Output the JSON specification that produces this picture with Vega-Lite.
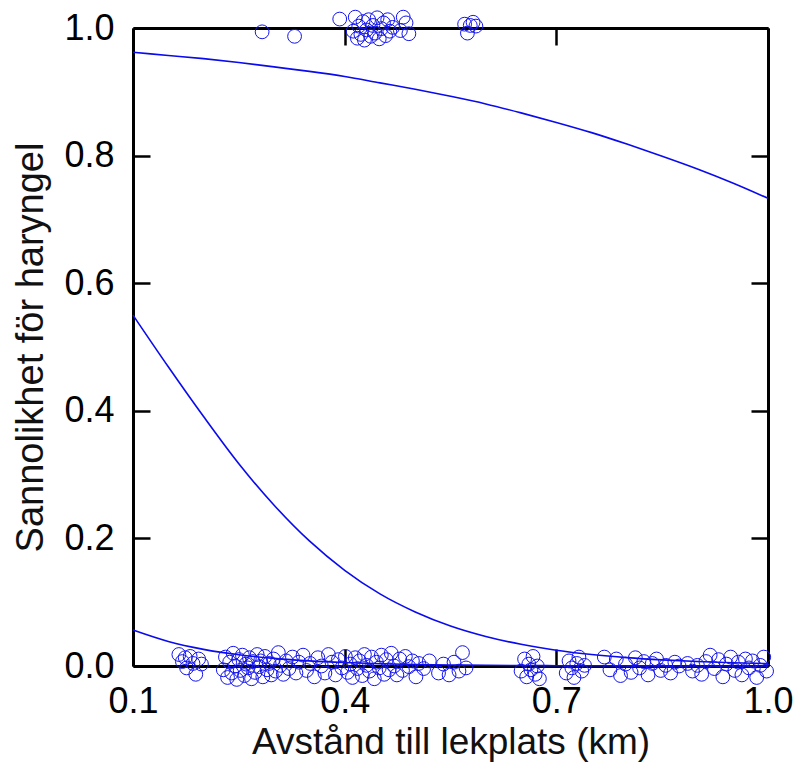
{
  "$schema": "https://vega.github.io/schema/vega-lite/v6.json",
  "width": 635,
  "height": 638,
  "autosize": "none",
  "padding": {"left": 133, "top": 28, "right": 29, "bottom": 96},
  "background": "white",
  "config": {
    "view": {"stroke": null},
    "font": "Liberation Sans",
    "axis": {
      "domainColor": "black", "domainWidth": 3, "tickColor": "black", "tickWidth": 2.5,
      "tickSize": -17, "grid": false, "labelFont": "Liberation Sans", "labelFontSize": 36,
      "labelColor": "black", "labelFlush": false, "labelOverlap": false,
      "titleFont": "Liberation Sans", "titleFontSize": 37, "titleFontWeight": "normal",
      "titleColor": "#111", "zindex": 1
    }
  },
  "datasets": {
    "pts": [
      {"x":0.165,"y":0.018},{"x":0.170,"y":0.007},{"x":0.176,"y":-0.003},{"x":0.181,"y":0.015},{"x":0.185,"y":0.004},{"x":0.189,"y":-0.013},{"x":0.193,"y":0.011},{"x":0.197,"y":0.003},{"x":0.174,"y":0.013},
      {"x":0.228,"y":-0.006},{"x":0.231,"y":0.014},{"x":0.234,"y":-0.018},{"x":0.237,"y":0.006},{"x":0.240,"y":-0.011},{"x":0.242,"y":0.020},{"x":0.245,"y":0.000},{"x":0.247,"y":-0.021},{"x":0.250,"y":0.010},{"x":0.252,"y":-0.007},{"x":0.255,"y":0.017},{"x":0.258,"y":-0.015},{"x":0.260,"y":0.003},{"x":0.263,"y":-0.003},{"x":0.265,"y":0.013},{"x":0.268,"y":-0.020},{"x":0.270,"y":0.007},{"x":0.273,"y":-0.010},{"x":0.276,"y":0.018},{"x":0.279,"y":-0.001},{"x":0.281,"y":0.008},{"x":0.284,"y":-0.017},{"x":0.287,"y":0.015},{"x":0.290,"y":-0.006},{"x":0.293,"y":0.004},{"x":0.296,"y":-0.014},{"x":0.299,"y":0.011},{"x":0.302,"y":-0.008},{"x":0.306,"y":0.021},{"x":0.309,"y":0.001},{"x":0.313,"y":-0.013},{"x":0.317,"y":0.008},{"x":0.321,"y":-0.004},{"x":0.326,"y":0.014},{"x":0.331,"y":-0.011},{"x":0.335,"y":0.006},
      {"x":0.341,"y":0.017},{"x":0.346,"y":-0.007},{"x":0.351,"y":0.004},{"x":0.357,"y":-0.017},{"x":0.362,"y":0.013},{"x":0.367,"y":0.000},{"x":0.372,"y":-0.011},{"x":0.377,"y":0.018},{"x":0.382,"y":0.006},{"x":0.387,"y":-0.014},{"x":0.391,"y":0.010},{"x":0.396,"y":-0.003},
      {"x":0.401,"y":0.015},{"x":0.404,"y":-0.010},{"x":0.408,"y":0.003},{"x":0.411,"y":-0.018},{"x":0.415,"y":0.013},{"x":0.418,"y":-0.004},{"x":0.421,"y":0.008},{"x":0.425,"y":-0.015},{"x":0.428,"y":0.018},{"x":0.431,"y":0.001},{"x":0.435,"y":-0.008},{"x":0.438,"y":0.014},{"x":0.442,"y":-0.020},{"x":0.445,"y":0.006},{"x":0.449,"y":-0.003},{"x":0.452,"y":0.017},{"x":0.456,"y":-0.013},{"x":0.459,"y":0.010},{"x":0.463,"y":-0.006},{"x":0.466,"y":0.020},{"x":0.470,"y":0.000},{"x":0.474,"y":-0.014},{"x":0.478,"y":0.011},{"x":0.482,"y":-0.007},{"x":0.486,"y":0.015},{"x":0.491,"y":-0.001},{"x":0.496,"y":0.008},{"x":0.501,"y":-0.017},{"x":0.505,"y":0.004},
      {"x":0.512,"y":-0.004},{"x":0.520,"y":0.008},{"x":0.533,"y":-0.011},{"x":0.540,"y":0.003},{"x":0.548,"y":-0.014},{"x":0.555,"y":0.006},{"x":0.562,"y":-0.008},{"x":0.567,"y":0.021},{"x":0.572,"y":-0.003},
      {"x":0.650,"y":-0.008},{"x":0.655,"y":0.011},{"x":0.658,"y":-0.017},{"x":0.661,"y":0.003},{"x":0.664,"y":-0.006},{"x":0.667,"y":0.015},{"x":0.670,"y":-0.013},{"x":0.673,"y":0.000},{"x":0.676,"y":-0.020},
      {"x":0.714,"y":-0.011},{"x":0.718,"y":0.008},{"x":0.722,"y":-0.003},{"x":0.725,"y":-0.018},{"x":0.729,"y":0.004},{"x":0.732,"y":0.014},{"x":0.736,"y":-0.008},{"x":0.740,"y":0.001},
      {"x":0.768,"y":0.014},{"x":0.776,"y":-0.006},{"x":0.785,"y":0.011},{"x":0.791,"y":-0.015},{"x":0.798,"y":0.003},{"x":0.806,"y":-0.010},{"x":0.812,"y":0.013},{"x":0.818,"y":-0.003},{"x":0.824,"y":0.007},{"x":0.830,"y":-0.014},{"x":0.836,"y":0.004},{"x":0.842,"y":0.011},{"x":0.848,"y":-0.007},{"x":0.855,"y":0.001},{"x":0.862,"y":-0.011},{"x":0.868,"y":0.006},{"x":0.874,"y":0.000},
      {"x":0.886,"y":0.004},{"x":0.893,"y":-0.008},{"x":0.900,"y":0.001},{"x":0.906,"y":-0.013},{"x":0.912,"y":0.007},{"x":0.918,"y":0.017},{"x":0.924,"y":-0.004},{"x":0.930,"y":0.010},{"x":0.936,"y":-0.017},{"x":0.941,"y":0.003},{"x":0.947,"y":0.014},{"x":0.953,"y":-0.007},{"x":0.958,"y":0.006},{"x":0.963,"y":-0.014},{"x":0.968,"y":0.011},{"x":0.973,"y":-0.003},{"x":0.978,"y":0.008},{"x":0.984,"y":-0.018},{"x":0.989,"y":0.001},{"x":0.994,"y":0.014},{"x":0.998,"y":-0.008},
      {"x":0.283,"y":0.994},{"x":0.329,"y":0.987},{"x":0.393,"y":1.014},{"x":0.412,"y":0.995},{"x":0.415,"y":1.017},{"x":0.418,"y":0.984},{"x":0.420,"y":1.003},{"x":0.423,"y":0.990},{"x":0.426,"y":1.010},{"x":0.428,"y":0.981},{"x":0.431,"y":0.997},{"x":0.434,"y":1.013},{"x":0.437,"y":0.987},{"x":0.440,"y":1.004},{"x":0.443,"y":0.992},{"x":0.446,"y":1.016},{"x":0.449,"y":0.983},{"x":0.452,"y":0.999},{"x":0.455,"y":1.008},{"x":0.458,"y":0.988},{"x":0.461,"y":1.013},{"x":0.464,"y":0.995},{"x":0.468,"y":1.001},{"x":0.479,"y":0.996},{"x":0.483,"y":1.017},{"x":0.487,"y":1.008},{"x":0.491,"y":0.991},{"x":0.570,"y":1.006},{"x":0.574,"y":0.992},{"x":0.578,"y":1.004},{"x":0.582,"y":1.009},{"x":0.586,"y":1.003}
    ],
    "curves": [
      {"c":"a","x":0.10,"p":0.962},{"c":"a","x":0.15,"p":0.957},{"c":"a","x":0.20,"p":0.952},{"c":"a","x":0.25,"p":0.946},{"c":"a","x":0.30,"p":0.939},{"c":"a","x":0.35,"p":0.932},{"c":"a","x":0.40,"p":0.924},{"c":"a","x":0.45,"p":0.914},{"c":"a","x":0.50,"p":0.904},{"c":"a","x":0.55,"p":0.893},{"c":"a","x":0.60,"p":0.881},{"c":"a","x":0.65,"p":0.867},{"c":"a","x":0.70,"p":0.852},{"c":"a","x":0.75,"p":0.836},{"c":"a","x":0.80,"p":0.818},{"c":"a","x":0.85,"p":0.799},{"c":"a","x":0.90,"p":0.779},{"c":"a","x":0.95,"p":0.757},{"c":"a","x":1.00,"p":0.733},
      {"c":"b","x":0.10,"p":0.550},{"c":"b","x":0.15,"p":0.469},{"c":"b","x":0.20,"p":0.391},{"c":"b","x":0.25,"p":0.317},{"c":"b","x":0.30,"p":0.252},{"c":"b","x":0.35,"p":0.196},{"c":"b","x":0.40,"p":0.150},{"c":"b","x":0.45,"p":0.113},{"c":"b","x":0.50,"p":0.0847},{"c":"b","x":0.55,"p":0.0627},{"c":"b","x":0.60,"p":0.0463},{"c":"b","x":0.65,"p":0.0340},{"c":"b","x":0.70,"p":0.0248},{"c":"b","x":0.75,"p":0.0181},{"c":"b","x":0.80,"p":0.0132},{"c":"b","x":0.85,"p":0.0096},{"c":"b","x":0.90,"p":0.0070},{"c":"b","x":0.95,"p":0.0051},{"c":"b","x":1.00,"p":0.0037},
      {"c":"c","x":0.10,"p":0.0563},{"c":"c","x":0.15,"p":0.0384},{"c":"c","x":0.20,"p":0.0261},{"c":"c","x":0.25,"p":0.0176},{"c":"c","x":0.30,"p":0.0119},{"c":"c","x":0.35,"p":0.0080},{"c":"c","x":0.40,"p":0.0054},{"c":"c","x":0.45,"p":0.0036},{"c":"c","x":0.50,"p":0.0024},{"c":"c","x":0.55,"p":0.0016},{"c":"c","x":0.60,"p":0.0011},{"c":"c","x":0.65,"p":0.0007},{"c":"c","x":0.70,"p":0.0005},{"c":"c","x":0.80,"p":0.0002},{"c":"c","x":0.90,"p":0.0001},{"c":"c","x":1.00,"p":0.0000}
    ]
  },
  "layer": [
    {
      "data": {"name": "curves"},
      "mark": {"type": "line", "color": "#0a0aee", "strokeWidth": 1.6, "interpolate": "monotone"},
      "encoding": {
        "x": {"field": "x", "type": "quantitative", "scale": {"domain": [0.1, 1.0], "nice": false, "zero": false},
              "axis": {"orient": "top", "labels": false, "title": null, "values": [0.1, 0.4, 0.7, 1.0]}},
        "y": {"field": "p", "type": "quantitative", "scale": {"domain": [0, 1], "nice": false},
              "axis": {"orient": "right", "labels": false, "title": null, "values": [0, 0.2, 0.4, 0.6, 0.8, 1.0]}},
        "detail": {"field": "c"}
      }
    },
    {
      "data": {"name": "pts"},
      "mark": {"type": "point", "shape": "circle", "filled": false, "color": "#1414ee", "strokeWidth": 1, "size": 190, "opacity": 1},
      "encoding": {
        "x": {"field": "x", "type": "quantitative",
              "axis": {"orient": "bottom", "title": "Avstånd till lekplats (km)", "values": [0.1, 0.4, 0.7, 1.0], "format": ".1f",
                       "labelPadding": 35, "titleY": 87, "titleBaseline": "alphabetic"}},
        "y": {"field": "y", "type": "quantitative",
              "axis": {"orient": "left", "title": "Sannolikhet för haryngel", "values": [0, 0.2, 0.4, 0.6, 0.8, 1.0], "format": ".1f",
                       "labelPadding": 36, "titleX": -91, "titleFontSize": 38, "titleBaseline": "alphabetic", "titleAngle": -90}}
      }
    }
  ],
  "resolve": {"axis": {"x": "independent", "y": "independent"}}
}
